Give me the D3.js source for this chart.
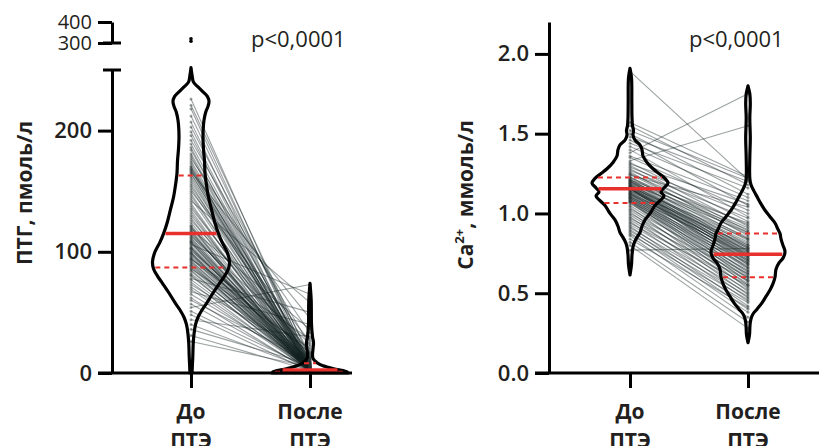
<!DOCTYPE html>
<html>
<head>
<meta charset="utf-8">
<script src="https://cdn.jsdelivr.net/npm/d3@7"></script>
<style>
body { margin: 0; background: #fff; }
text { font-family: "Open Sans", sans-serif; fill: #231f20; }
</style>
</head>
<body>
<script>
var groups = ["До ПТЭ", "После ПТЭ"];

// ПТГ, pmol/l - paired patients (before / after)
var pthBefore = [
  226, 221, 218, 212, 207, 203, 199, 196, 192, 189,
  186, 184, 181, 179, 177, 175, 173, 171, 170, 169,
  168, 167, 166, 165, 164, 162, 160, 158, 156, 154,
  152, 150, 148, 146, 144, 142, 140, 138, 136, 134,
  132, 130, 128, 126, 124, 122, 121, 119, 118, 116,
  114, 113, 112, 111, 110, 109, 108, 107, 106, 105,
  104, 103, 102, 101, 100, 99, 98, 97, 96, 95,
  94, 93, 92, 90, 89, 86, 85, 84, 82, 81,
  80, 78, 77, 75, 73, 71, 69, 67, 65, 62,
  60, 57, 54, 51, 48, 44, 40, 36, 31, 26,
  120, 117, 115, 108, 103, 99, 94, 91, 88, 87
];
var pthAfter = [
  6, 12, 4, 9, 2, 15, 5, 3, 22, 7,
  1.5, 10, 4, 2.5, 33, 6, 1, 8, 3, 14,
  2, 5, 45, 1.2, 9, 3.5, 2, 7, 0.8, 11,
  4, 26, 1.8, 6, 2.8, 58, 1, 5, 13, 2.2,
  3, 8, 1.4, 18, 4.5, 2, 0.9, 36, 3.2, 6.5,
  1.6, 24, 2.4, 5.5, 0.7, 9, 3, 1.1, 65, 4,
  2, 7.5, 1.3, 16, 2.6, 5, 0.6, 11, 3.6, 1.7,
  28, 2.1, 6, 0.9, 4.2, 20, 1.5, 3, 8, 0.8,
  2.7, 50, 5, 1.2, 13, 3.8, 2, 40, 6, 1,
  10, 2.5, 73, 4, 1.4, 30, 3, 7, 2, 5,
  3.4, 1.9, 12, 0.7, 5.8, 2.3, 17, 1.1, 4.6, 2.9
];
var pthOutliers = [308, 320];
// median, q1, q3
var pthStatsBefore = [115, 87, 163];
var pthStatsAfter = [2.5, 1, 8];
// violin outline: [value, density]
var pthViolinBefore = [
  [252, 0], [246, 1], [240, 2.5], [236, 7], [232, 12], [228, 16.5], [224, 18],
  [220, 17], [216, 15], [211, 13.5], [205, 12.5], [195, 12], [185, 12.5],
  [175, 13.5], [165, 14], [155, 15.5], [145, 17.5], [135, 20.5], [125, 23.5],
  [116, 27], [108, 31], [100, 36], [92, 38.5], [86, 37.5], [80, 33.5],
  [74, 28.5], [66, 22], [58, 16], [52, 11], [46, 7], [40, 4.5], [32, 3],
  [24, 2.2], [14, 1.8], [5, 1.3], [0, 1]
];
var pthViolinAfter = [
  [74, 0], [60, 1.2], [40, 1.5], [30, 2.5], [25, 3.5], [20, 3], [15, 2.5],
  [12, 3], [10, 5], [8, 8], [6, 13], [5, 17], [4, 21], [3, 26], [2, 33],
  [1, 37], [0, 38]
];

// Ca2+, mmol/l - paired patients (before / after)
var caBefore = [
  1.89, 1.57, 1.55, 1.52, 1.50, 1.48, 1.46, 1.44, 1.42, 1.40,
  1.38, 1.36, 1.35, 1.33, 1.32, 1.31, 1.30, 1.29, 1.28, 1.27,
  1.26, 1.25, 1.245, 1.24, 1.23, 1.225, 1.22, 1.215, 1.21, 1.21,
  1.205, 1.20, 1.20, 1.195, 1.19, 1.19, 1.185, 1.18, 1.18, 1.175,
  1.17, 1.17, 1.165, 1.165, 1.16, 1.16, 1.16, 1.155, 1.155, 1.155,
  1.15, 1.145, 1.14, 1.14, 1.135, 1.13, 1.13, 1.125, 1.12, 1.12,
  1.115, 1.11, 1.11, 1.105, 1.10, 1.10, 1.095, 1.09, 1.09, 1.085,
  1.08, 1.08, 1.075, 1.07, 1.07, 1.06, 1.05, 1.04, 1.03, 1.02,
  1.01, 1.00, 0.99, 0.98, 0.97, 0.96, 0.95, 0.94, 0.93, 0.92,
  0.91, 0.90, 0.89, 0.88, 0.87, 0.86, 0.84, 0.82, 0.80, 0.77
];
var caAfter = [
  1.21, 1.23, 1.18, 1.22, 1.12, 1.20, 1.05, 1.16, 1.10, 0.98,
  1.75, 1.08, 1.02, 1.55, 0.95, 1.06, 0.92, 1.00, 0.89, 0.97,
  0.86, 0.93, 0.88, 1.04, 0.84, 0.91, 0.87, 0.80, 0.94, 0.83,
  0.78, 0.90, 0.76, 0.85, 0.74, 0.88, 0.79, 0.82, 0.72, 0.77,
  0.81, 0.70, 0.75, 0.84, 0.73, 0.68, 0.79, 0.76, 0.71, 0.66,
  0.78, 0.74, 0.69, 0.80, 0.72, 0.65, 0.75, 0.70, 0.77, 0.63,
  0.73, 0.68, 0.61, 0.74, 0.66, 0.59, 0.71, 0.64, 0.57, 0.69,
  0.62, 0.55, 0.67, 0.60, 0.53, 0.64, 0.58, 0.51, 0.62, 0.56,
  0.49, 0.60, 0.54, 0.47, 0.58, 0.52, 0.45, 0.55, 0.50, 0.42,
  0.48, 0.40, 0.46, 0.38, 0.44, 0.35, 0.41, 0.32, 0.28, 0.78
];
var caStatsBefore = [1.155, 1.065, 1.225];
var caStatsAfter = [0.745, 0.60, 0.875];
var caViolinBefore = [
  [1.91, 0], [1.85, 1.5], [1.7, 1.8], [1.6, 2], [1.55, 2.5], [1.52, 3.5],
  [1.49, 3], [1.46, 5], [1.43, 10], [1.40, 12], [1.36, 13], [1.32, 17],
  [1.28, 23], [1.25, 29], [1.22, 35], [1.19, 38], [1.16, 34], [1.135, 31],
  [1.11, 34], [1.08, 30], [1.05, 25], [1.02, 22], [1.0, 20], [0.96, 15],
  [0.92, 12], [0.88, 10], [0.85, 7], [0.82, 4.5], [0.79, 3], [0.74, 2],
  [0.68, 1.5], [0.615, 0]
];
var caViolinAfter = [
  [1.80, 0], [1.75, 1.8], [1.69, 2.3], [1.6, 1.8], [1.47, 2.3], [1.35, 1.8],
  [1.22, 1.8], [1.18, 3], [1.14, 6], [1.10, 9.5], [1.06, 13], [1.02, 17],
  [0.98, 22], [0.94, 27], [0.90, 30], [0.875, 32], [0.84, 33], [0.80, 35],
  [0.76, 37], [0.72, 35], [0.69, 31], [0.65, 28], [0.60, 27], [0.56, 25],
  [0.52, 22], [0.48, 18], [0.44, 14], [0.40, 9], [0.37, 5], [0.34, 3],
  [0.30, 2], [0.24, 1.5], [0.19, 0]
];

var width = 819, height = 446;

var svg = d3.select("body").append("svg")
    .attr("width", width)
    .attr("height", height);

// density -> half width in px
var w = d3.scaleLinear().domain([0, 40]).range([0, 40]);

function violin(g, x, y, cx, profile, stats, pass) {
  if (pass == "fill" || pass == "stroke") {
    var area = d3.area()
        .curve(d3.curveCatmullRom.alpha(0.5))
        .y(function(d){ return y(d[0]); })
        .x0(function(d){ return cx - w(d[1]); })
        .x1(function(d){ return cx + w(d[1]); });
    g.append("path")
        .datum(profile)
        .attr("d", area)
        .attr("fill", pass == "fill" ? "#fff" : "none")
        .attr("stroke", pass == "fill" ? "none" : "#000")
        .attr("stroke-width", 3.2)
        .attr("stroke-linejoin", "round");
  }
  if (pass == "stats") {
    var half = d3.scaleLinear()
        .domain(profile.map(function(d){ return d[0]; }))
        .range(profile.map(function(d){ return d[1]; }));
    stats.forEach(function(v, i){
      var hw = Math.max(w(half(v)) - 2, 2);
      g.append("line")
          .attr("x1", cx - hw).attr("x2", cx + hw)
          .attr("y1", y(v)).attr("y2", y(v))
          .attr("stroke", "#e8302c")
          .attr("stroke-width", i == 0 ? 3.5 : 2)
          .attr("stroke-dasharray", i == 0 ? null : "5,4");
    });
  }
}

function panel(o) {
  var g = svg.append("g");
  var x = o.x, y = o.y;
  var c0 = x(groups[0]), c1 = x(groups[1]);
  var pairs = o.before.map(function(b, i){ return [b, o.after[i]]; });

  violin(g, x, y, c0, o.vb, o.sb, "fill");
  violin(g, x, y, c1, o.va, o.sa, "fill");

  g.selectAll("line.pair")
      .data(pairs).enter()
      .append("line")
      .attr("class", "pair")
      .attr("x1", c0).attr("x2", c1)
      .attr("y1", function(d){ return y(d[0]); })
      .attr("y2", function(d){ return y(d[1]); })
      .attr("stroke", "#142121")
      .attr("stroke-opacity", 0.42)
      .attr("stroke-width", 1.1);

  g.selectAll("circle.b")
      .data(o.before).enter()
      .append("circle")
      .attr("cx", c0)
      .attr("cy", function(d){ return y(d); })
      .attr("r", 1.5)
      .attr("fill", "#2a3333")
      .attr("fill-opacity", 0.45);
  g.selectAll("circle.a")
      .data(o.after).enter()
      .append("circle")
      .attr("cx", c1)
      .attr("cy", function(d){ return y(d); })
      .attr("r", 1.5)
      .attr("fill", "#2a3333")
      .attr("fill-opacity", 0.45);

  violin(g, x, y, c0, o.vb, o.sb, "stroke");
  violin(g, x, y, c1, o.va, o.sa, "stroke");
  violin(g, x, y, c0, o.vb, o.sb, "stats");
  violin(g, x, y, c1, o.va, o.sa, "stats");

  // x axis
  var base = y.range()[0];
  g.append("line")
      .attr("x1", o.xStart).attr("x2", o.xEnd)
      .attr("y1", base).attr("y2", base)
      .attr("stroke", "#000").attr("stroke-width", 3);
  var xa = g.append("g")
      .attr("transform", "translate(0," + base + ")")
      .call(d3.axisBottom(x).tickSize(15).tickFormat(""));
  xa.select(".domain").remove();
  xa.selectAll("line").attr("stroke", "#000").attr("stroke-width", 3);

  groups.forEach(function(name){
    var parts = name.split(" ");
    var t = g.append("text")
        .attr("x", x(name))
        .attr("y", 419)
        .attr("text-anchor", "middle")
        .attr("font-size", 21)
        .attr("font-weight", 700);
    t.append("tspan").attr("x", x(name)).text(parts[0]);
    t.append("tspan").attr("x", x(name)).attr("dy", 29).text(parts[1]);
  });

  g.append("text")
      .attr("x", o.pX)
      .attr("y", 47)
      .attr("font-size", 22)
      .text("p<0,0001");

  return g;
}

function styleAxis(a) {
  a.select(".domain").attr("stroke", "#000").attr("stroke-width", 3);
  a.selectAll(".tick line").attr("stroke", "#000").attr("stroke-width", 3);
  a.selectAll(".tick text")
      .attr("font-size", 22)
      .attr("font-weight", 600)
      .attr("fill", "#231f20")
      .attr("font-family", "'Open Sans', sans-serif");
}

// ---- left panel: ПТГ with broken axis
var xPth = d3.scalePoint().domain(groups).range([191, 310]);
var yPth = d3.scaleLinear().domain([0, 250]).range([373, 70]);
var yPthTop = d3.scaleLinear().domain([300, 400]).range([43, 22]);

var gp = panel({
  x: xPth, y: yPth,
  before: pthBefore, after: pthAfter,
  vb: pthViolinBefore, va: pthViolinAfter,
  sb: pthStatsBefore, sa: pthStatsAfter,
  xStart: 98, xEnd: 352, pX: 251
});

var ax1 = gp.append("g")
    .attr("transform", "translate(112,0)")
    .call(d3.axisLeft(yPth).tickValues([0, 100, 200]).tickSize(14).tickSizeOuter(0).tickPadding(6));
styleAxis(ax1);
var ax2 = gp.append("g")
    .attr("transform", "translate(112,0)")
    .call(d3.axisLeft(yPthTop).tickValues([300, 400]).tickSize(14).tickSizeOuter(0).tickPadding(6));
styleAxis(ax2);
ax2.selectAll(".tick text").attr("font-weight", 500).attr("font-size", 20);

// break caps
[yPth(250), yPthTop(300)].forEach(function(yy){
  gp.append("line")
      .attr("x1", 103).attr("x2", 121)
      .attr("y1", yy).attr("y2", yy)
      .attr("stroke", "#000").attr("stroke-width", 3);
});

// outlier above the break
gp.selectAll("circle.out")
    .data(pthOutliers).enter()
    .append("circle")
    .attr("cx", xPth(groups[0]))
    .attr("cy", function(d){ return yPthTop(d); })
    .attr("r", 1.8)
    .attr("fill", "#000");

gp.append("text")
    .attr("transform", "translate(32,193) rotate(-90)")
    .attr("text-anchor", "middle")
    .attr("font-size", 21)
    .attr("font-weight", 700)
    .text("ПТГ, пмоль/л");

// ---- right panel: Ca2+
var xCa = d3.scalePoint().domain(groups).range([630, 748]);
var yCa = d3.scaleLinear().domain([0, 2.2]).range([373, 22]);

var gc = panel({
  x: xCa, y: yCa,
  before: caBefore, after: caAfter,
  vb: caViolinBefore, va: caViolinAfter,
  sb: caStatsBefore, sa: caStatsAfter,
  xStart: 535, xEnd: 819, pX: 689
});

var ax3 = gc.append("g")
    .attr("transform", "translate(549,0)")
    .call(d3.axisLeft(yCa).tickValues([0, 0.5, 1, 1.5, 2]).tickFormat(d3.format(".1f"))
      .tickSize(14).tickSizeOuter(0).tickPadding(6));
styleAxis(ax3);

var caLabel = gc.append("text")
    .attr("transform", "translate(473,195) rotate(-90)")
    .attr("text-anchor", "middle")
    .attr("font-size", 21)
    .attr("font-weight", 700);
caLabel.append("tspan").text("Ca");
caLabel.append("tspan").attr("font-size", 13).attr("dy", -9).text("2+");
caLabel.append("tspan").attr("dy", 9).text(", ммоль/л");
</script>
</body>
</html>
